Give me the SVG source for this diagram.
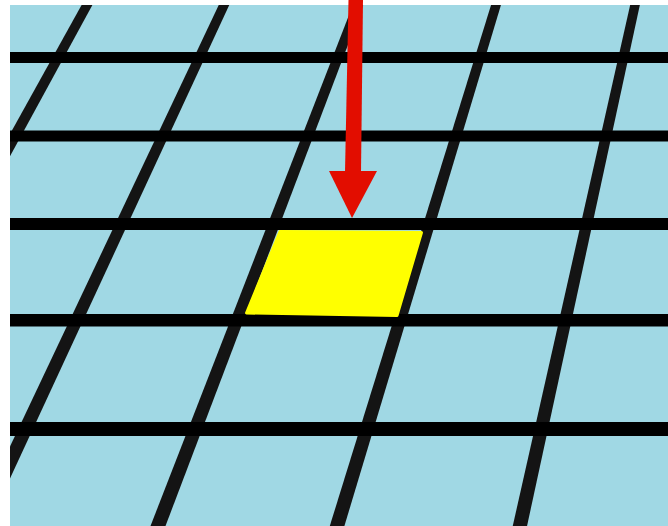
<svg xmlns="http://www.w3.org/2000/svg" width="668" height="526" viewBox="0 0 668 526">
  <defs>
    <style>
      .bg { fill: #a0d8e4; }
      .slant { fill: #141414; }
      .hline { fill: #000000; }
      .cell { fill: #ffff00; stroke: #ffff00; stroke-width: 3; stroke-linejoin: round; }
      .arrow { fill: #e20d00; }
    </style>
    <clipPath id="floorClip">
      <rect x="10" y="5" width="658" height="521"/>
    </clipPath>
  </defs>
  <rect x="0" y="0" width="668" height="526" fill="#ffffff"/>
  <g id="floor" clip-path="url(#floorClip)">
    <rect class="bg" x="10" y="5" width="658" height="521"/>
    <g id="slanted-lines">
      <polygon class="slant" points="81.6,5 92.4,5 -191.6,526 -207.6,526"/>
      <polygon class="slant" points="218.75,5 229.25,5 -12.05,526 -27.55,526"/>
      <polygon class="slant" points="352.9,5 363.1,5 165.5,526 150.5,526"/>
      <polygon class="slant" points="491.05,5 500.95,5 344.4,526 329.8,526"/>
      <polygon class="slant" points="630.15,5 639.85,5 527.05,526 512.75,526"/>
    </g>
    <g id="horizontal-lines">
      <rect class="hline" x="10" y="52" width="658" height="11"/>
      <rect class="hline" x="10" y="130.5" width="658" height="11"/>
      <rect class="hline" x="10" y="218" width="658" height="12"/>
      <rect class="hline" x="10" y="314" width="658" height="12.5"/>
      <rect class="hline" x="10" y="422" width="658" height="14"/>
    </g>
  </g>
  <g id="highlighted-cell">
    <polygon class="cell" points="280,231.5 421.5,232.5 397,315.5 246.5,313"/>
  </g>
  <g id="connectors">
    <polygon class="arrow" points="348.5,0 363,0 361,172 345,172"/>
    <polygon class="arrow" points="329,171 377,171 352,218"/>
  </g>
</svg>
